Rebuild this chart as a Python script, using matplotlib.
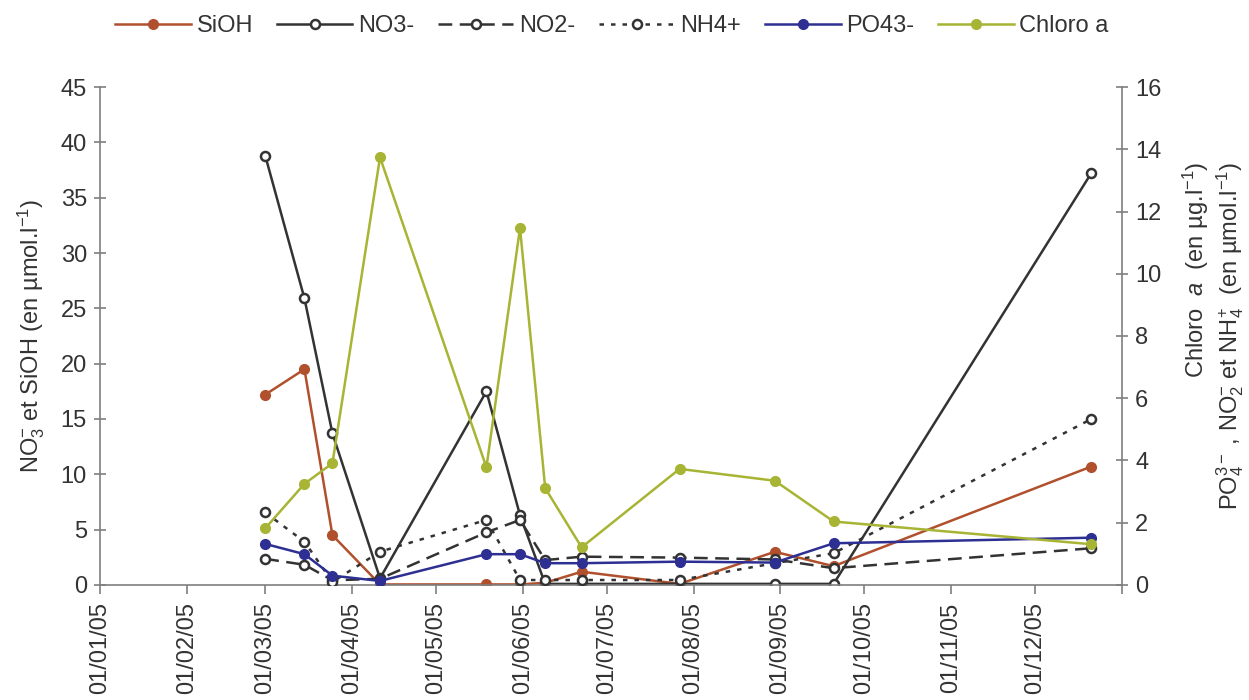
import numpy as np
import pandas as pd
import matplotlib
matplotlib.use("Agg")
import matplotlib.pyplot as plt

plt.rcParams['font.family'] = ['Liberation Sans', 'DejaVu Sans']
plt.rcParams['mathtext.fontset'] = 'custom'
plt.rcParams['mathtext.rm'] = 'Liberation Sans'
plt.rcParams['mathtext.it'] = 'Liberation Sans:italic'
plt.rcParams['mathtext.default'] = 'regular'

# sampling dates
dates = pd.to_datetime(["2005-03-01", "2005-03-15", "2005-03-25", "2005-04-11",
                        "2005-05-19", "2005-05-31", "2005-06-09", "2005-06-22",
                        "2005-07-27", "2005-08-30", "2005-09-20", "2005-12-21"])

# left axis (umol/l)
sioh = [17.2, 19.5, 4.5, 0.05, 0.05, 0.05, 0.2, 1.2, 0.1, 3.0, 1.7, 10.7]
no3 = [38.8, 25.9, 13.7, 0.6, 17.5, 6.3, 0.1, 0.1, 0.1, 0.1, 0.1, 37.2]

# right axis
no2 = [0.84, 0.65, 0.15, 0.2, 1.69, 2.09, 0.8, 0.91, 0.88, 0.82, 0.54, 1.18]
nh4 = [2.33, 1.39, 0.1, 1.07, 2.09, 0.16, 0.16, 0.16, 0.16, 0.7, 1.02, 5.33]
po4 = [1.32, 0.99, 0.3, 0.13, 0.99, 0.99, 0.7, 0.7, 0.75, 0.72, 1.34, 1.52]
chloro = [1.82, 3.25, 3.91, 13.74, 3.78, 11.47, 3.11, 1.21, 3.73, 3.35, 2.04, 1.31]

c_sioh = "#B0502D"
c_no3 = "#333333"
c_po4 = "#2D3092"
c_chl = "#A8B434"
gray = "#7f7f7f"

fig = plt.figure(figsize=(12.49, 7.0), dpi=100)
ax = fig.add_axes([0.0801, 0.1643, 0.8182, 0.7114])
ax2 = ax.twinx()

lw = 1.8
ms_fill = 7
ms_open = 6.5
l1, = ax.plot(dates, sioh, color=c_sioh, lw=lw, marker='o', ms=ms_fill, label='SiOH')
l2, = ax.plot(dates, no3, color=c_no3, lw=lw, marker='o', ms=ms_open, mfc='white',
              mec=c_no3, mew=1.8, label='NO3-')
l3, = ax2.plot(dates, no2, color=c_no3, lw=lw, ls=(0, (5.5, 3)), marker='o', ms=ms_open,
               mfc='white', mec=c_no3, mew=1.8, label='NO2-')
l4, = ax2.plot(dates, nh4, color=c_no3, lw=lw, ls=(0, (1.8, 2.8)), marker='o', ms=ms_open,
               mfc='white', mec=c_no3, mew=1.8, label='NH4+')
l5, = ax2.plot(dates, po4, color=c_po4, lw=lw, marker='o', ms=ms_fill, label='PO43-')
l6, = ax2.plot(dates, chloro, color=c_chl, lw=lw, marker='o', ms=ms_fill, label='Chloro a')

ax.set_xlim(pd.Timestamp("2005-01-01"), pd.Timestamp("2006-01-01"))
ax.set_ylim(0, 45)
ax2.set_ylim(0, 16)
ax.set_yticks(np.arange(0, 46, 5))
ax2.set_yticks(np.arange(0, 17, 2))

months = pd.date_range("2005-01-01", "2006-01-01", freq="MS")
ax.set_xticks(months)
ax.set_xticklabels([d.strftime("%d/%m/%y") for d in months[:-1]] + [""],
                   rotation=90, va='top', ha='center')

for a in (ax, ax2):
    a.spines['top'].set_visible(False)
    for s in a.spines.values():
        s.set_color(gray)
        s.set_linewidth(1.2)
ax.spines['right'].set_visible(False)
ax2.spines['left'].set_visible(False)
ax2.spines['bottom'].set_visible(False)

ax.tick_params(axis='x', direction='out', length=6.5, width=1.2, color=gray,
               labelsize=17, labelcolor='#333333', pad=6)
ax.tick_params(axis='y', direction='inout', length=9, width=1.2, color=gray,
               labelsize=17, labelcolor='#333333', pad=5)
ax2.tick_params(axis='y', direction='inout', length=9, width=1.2, color=gray,
                labelsize=17, labelcolor='#333333', pad=5)

ax.set_ylabel("NO$_3^{-}$ et SiOH (en µmol.l$^{-1}$)", fontsize=17,
              color='#333333', labelpad=10)
ax2.set_ylabel("Chloro  $\\it{a}$  (en µg.l$^{-1}$)\n"
               "PO$_4^{3-}$ , NO$_2^{-}$ et NH$_4^{+}$  (en µmol.l$^{-1}$)",
               fontsize=17, color='#333333', labelpad=14,
               multialignment='right', linespacing=1.15)

fig.legend(handles=[l1, l2, l3, l4, l5, l6], loc='center', ncol=6,
           bbox_to_anchor=(0.49, 0.963), frameon=False, fontsize=17,
           handlelength=3.2, handletextpad=0.25, columnspacing=1.0,
           labelcolor='#333333')

fig.savefig("out.png", dpi=100)
